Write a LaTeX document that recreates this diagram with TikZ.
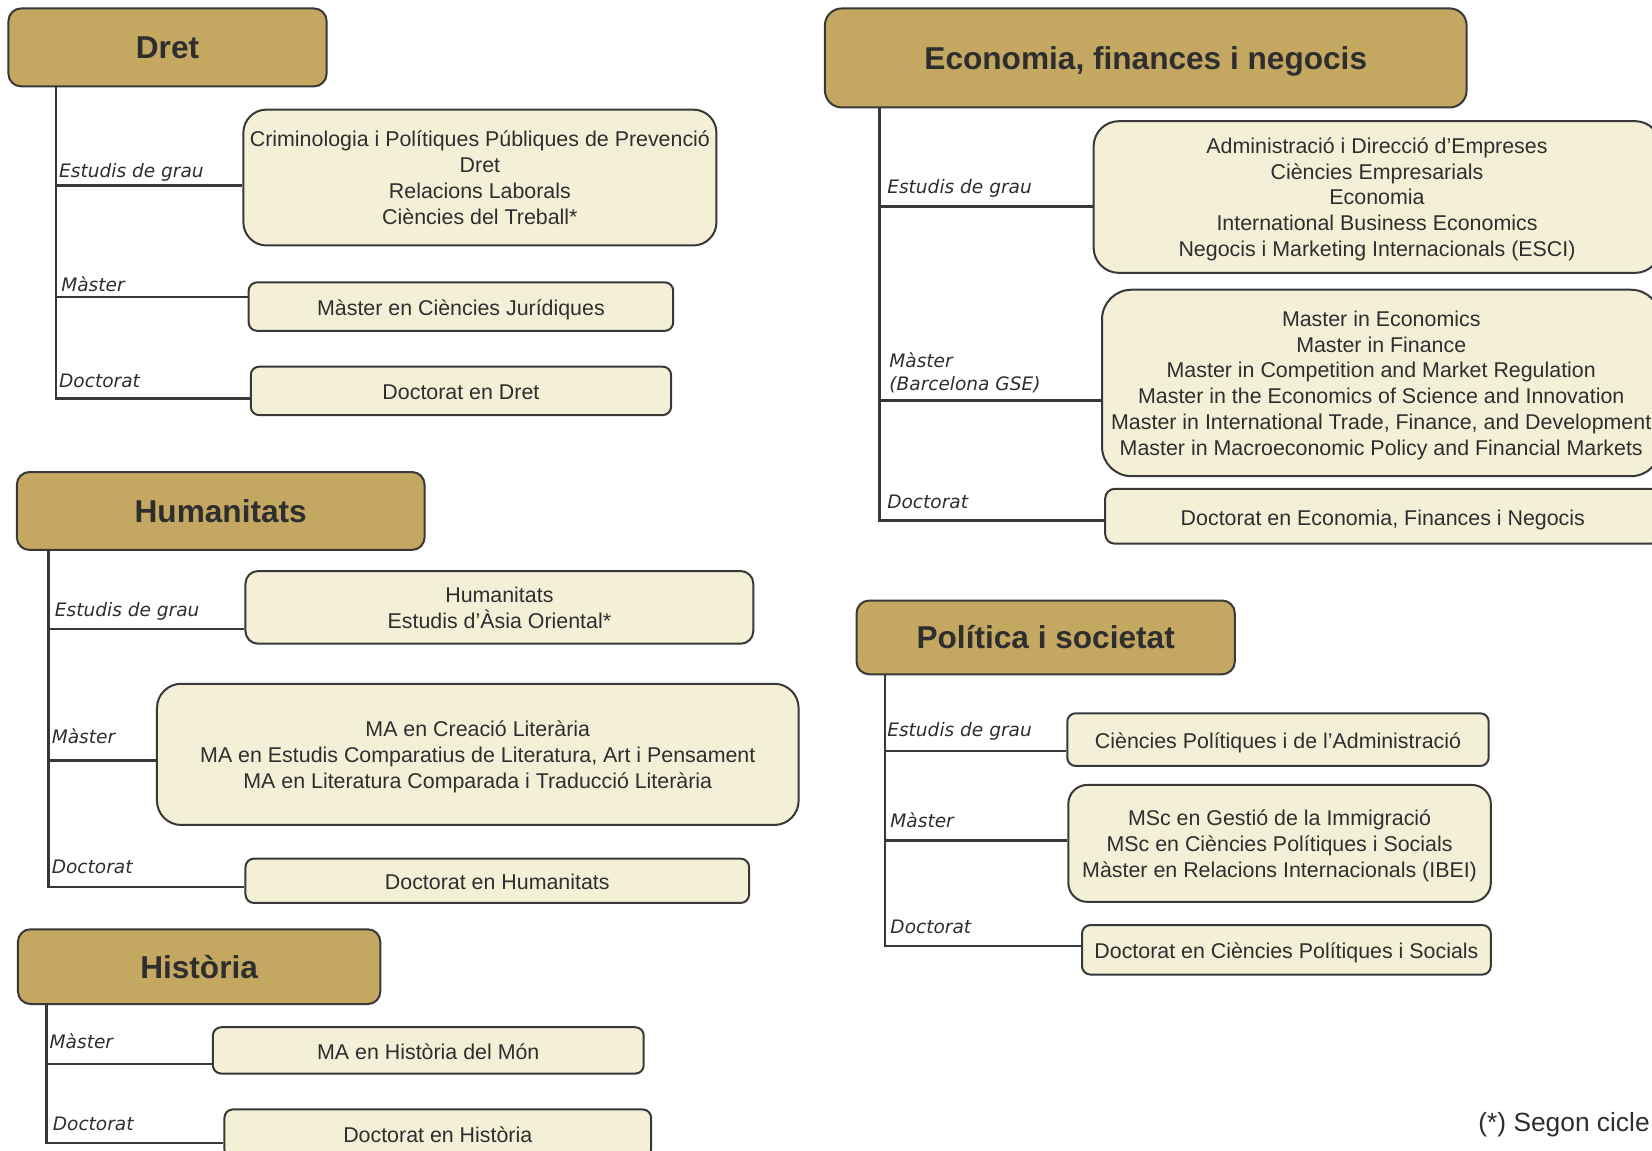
\documentclass[tikz,border=0pt]{standalone}
\usepackage{fontspec}
\setmainfont{Liberation Sans}
\newfontfamily\etiqfont{DejaVu Sans}
\definecolor{daurat}{HTML}{C4A862}
\definecolor{crema}{HTML}{F3F0D7}
\definecolor{vora}{HTML}{383838}
\definecolor{textgris}{HTML}{2E2E2E}
\tikzset{
  titol/.style={draw=vora,fill=daurat,line width=1.9pt,rounded corners=#1,text=textgris,
    font=\fontsize{30}{36}\selectfont\bfseries,inner sep=0pt,text height=21.6pt,text depth=0pt},
  titol/.default=12pt,
  caixa/.style={draw=vora,fill=crema,line width=1.9pt,rounded corners=#1,text=textgris,
    font=\fontsize{20.3}{24.5}\selectfont,align=center,inner sep=0pt},
  caixa/.default=8pt,
  una/.style={text height=21.5pt,text depth=4.4pt},
  etiq/.style={anchor=base west,inner sep=0pt,xshift=3pt,yshift=10pt,text=textgris,align=left,
    font=\etiqfont\itshape\fontsize{17.6}{22}\selectfont},
  branca/.style={draw=vora,line width=2.4pt},
}
\begin{document}
\begin{tikzpicture}[x=1pt,y=-1pt]
    \useasboundingbox (0,0) rectangle (1568,1092);
    % Dret
    \node[titol,minimum width=302pt,minimum height=74pt] (dret) at (159,45) {Dret};
    \node[caixa=22pt,text depth=-8pt,minimum width=449pt,minimum height=129pt] (dretG) at (455.5,168.5)
      {Criminologia i Polítiques Públiques de Prevenció\\Dret\\Relacions Laborals\\Ciències del Treball*};
    \node[caixa,una,minimum width=403pt,minimum height=46pt] (dretM) at (437.5,291) {Màster en Ciències Jurídiques};
    \node[caixa,una,minimum width=399pt,minimum height=46pt] (dretD) at (437.5,371) {Doctorat en Dret};
    \coordinate (dretG0) at (53,176);
    \coordinate (dretM0) at (53,282);
    \coordinate (dretD0) at (53,378);
    \draw[branca] (dret.south -| dretD0) -- (dretD0) -- (dretD0 -| dretD.west);
    \draw[branca] (dretG0) -- (dretG0 -| dretG.west);
    \draw[branca] (dretM0) -- (dretM0 -| dretM.west);
    \node[etiq,yshift=-2pt] (dretGl) at (dretG0) {Estudis de grau};
    \node[etiq,xshift=2pt,yshift=-5pt] (dretMl) at (dretM0) {Màster};
    \node[etiq] (dretDl) at (dretD0) {Doctorat};
    % Humanitats
    \node[titol,minimum width=387pt,minimum height=74pt] (hum) at (209.5,485) {Humanitats};
    \node[caixa=12pt,text depth=-4pt,minimum width=482pt,minimum height=69pt] (humG) at (474,576.5)
      {Humanitats\\Estudis d’Àsia Oriental*};
    \node[caixa=23pt,text depth=-4pt,minimum width=609pt,minimum height=134pt] (humM) at (453.5,716)
      {MA en Creació Literària\\MA en Estudis Comparatius de Literatura, Art i Pensament\\MA en Literatura Comparada i Traducció Literària};
    \node[caixa,una,minimum width=478pt,minimum height=42pt] (humD) at (472,836) {Doctorat en Humanitats};
    \coordinate (humG0) at (46,597);
    \coordinate (humM0) at (46,722);
    \coordinate (humD0) at (46,842);
    \draw[branca] (hum.south -| humD0) -- (humD0) -- (humD0 -| humD.west);
    \draw[branca] (humG0) -- (humG0 -| humG.west);
    \draw[branca] (humM0) -- (humM0 -| humM.west);
    \node[etiq,xshift=3pt,yshift=2pt] (humGl) at (humG0) {Estudis de grau};
    \node[etiq,yshift=6pt] (humMl) at (humM0) {Màster};
    \node[etiq,yshift=3pt] (humDl) at (humD0) {Doctorat};
    % Historia
    \node[titol,minimum width=344pt,minimum height=71pt] (hist) at (189,917.5) {Història};
    \node[caixa,una,minimum width=409pt,minimum height=44pt] (histM) at (406.5,997) {MA en Història del Món};
    \node[caixa,una,minimum width=405pt,minimum height=46pt] (histD) at (415.5,1076) {Doctorat en Història};
    \coordinate (histM0) at (44,1010);
    \coordinate (histD0) at (44,1085);
    \draw[branca] (hist.south -| histD0) -- (histD0) -- (histD0 -| histD.west);
    \draw[branca] (histM0) -- (histM0 -| histM.west);
    \node[etiq,yshift=5pt] (histMl) at (histM0) {Màster};
    \node[etiq,xshift=3pt,yshift=2pt] (histDl) at (histD0) {Doctorat};
    % Economia, finances i negocis
    \node[titol=16pt,minimum width=609pt,minimum height=94pt] (eco) at (1087.5,55) {Economia, finances i negocis};
    \node[caixa=24pt,text depth=0pt,minimum width=538pt,minimum height=144pt] (ecoG) at (1307,187)
      {Administració i Direcció d’Empreses\\Ciències Empresarials\\Economia\\International Business Economics\\Negocis i Marketing Internacionals (ESCI)};
    \node[caixa=28pt,text depth=0pt,minimum width=530pt,minimum height=177pt] (ecoM) at (1311,363.5)
      {Master in Economics\\Master in Finance\\Master in Competition and Market Regulation\\Master in the Economics of Science and Innovation\\Master in International Trade, Finance, and Development\\Master in Macroeconomic Policy and Financial Markets};
    \node[caixa=9pt,una,minimum width=527pt,minimum height=52pt] (ecoD) at (1312.5,490) {Doctorat en Economia, Finances i Negocis};
    \coordinate (ecoG0) at (835,196);
    \coordinate (ecoM0) at (835,380);
    \coordinate (ecoD0) at (835,494);
    \draw[branca] (eco.south -| ecoD0) -- (ecoD0) -- (ecoD0 -| ecoD.west);
    \draw[branca] (ecoG0) -- (ecoG0 -| ecoG.west);
    \draw[branca] (ecoM0) -- (ecoM0 -| ecoM.west);
    \node[etiq,xshift=4pt,yshift=2pt] (ecoGl) at (ecoG0) {Estudis de grau};
    \node[etiq,xshift=6pt,yshift=-1pt] (ecoMl) at (ecoM0) {Màster\\(Barcelona GSE)};
    \node[etiq,xshift=4pt,yshift=1pt] (ecoDl) at (ecoD0) {Doctorat};
    % Politica i societat
    \node[titol,minimum width=359pt,minimum height=70pt] (pol) at (992.5,605) {Política i societat};
    \node[caixa,una,minimum width=400pt,minimum height=50pt] (polG) at (1213,702) {Ciències Polítiques i de l’Administració};
    \node[caixa=18pt,text depth=0pt,minimum width=401pt,minimum height=111pt] (polM) at (1214.5,800.5)
      {MSc en Gestió de la Immigració\\MSc en Ciències Polítiques i Socials\\Màster en Relacions Internacionals (IBEI)};
    \node[caixa,una,minimum width=388pt,minimum height=47pt] (polD) at (1221,901.5) {Doctorat en Ciències Polítiques i Socials};
    \coordinate (polG0) at (840,713);
    \coordinate (polM0) at (840,798);
    \coordinate (polD0) at (840,898);
    \draw[branca] (pol.south -| polD0) -- (polD0) -- (polD0 -| polD.west);
    \draw[branca] (polG0) -- (polG0 -| polG.west);
    \draw[branca] (polM0) -- (polM0 -| polM.west);
    \node[etiq,xshift=-1pt,yshift=4pt] (polGl) at (polG0) {Estudis de grau};
    \node[etiq,xshift=2pt,yshift=3pt] (polMl) at (polM0) {Màster};
    \node[etiq,xshift=2pt,yshift=2pt] (polDl) at (polD0) {Doctorat};
    % Nota
    \node[anchor=base east,inner sep=0pt,text=textgris,font=\fontsize{25}{30}\selectfont] (nota) at (1566,1074) {(*) Segon cicle};
\end{tikzpicture}
\end{document}
